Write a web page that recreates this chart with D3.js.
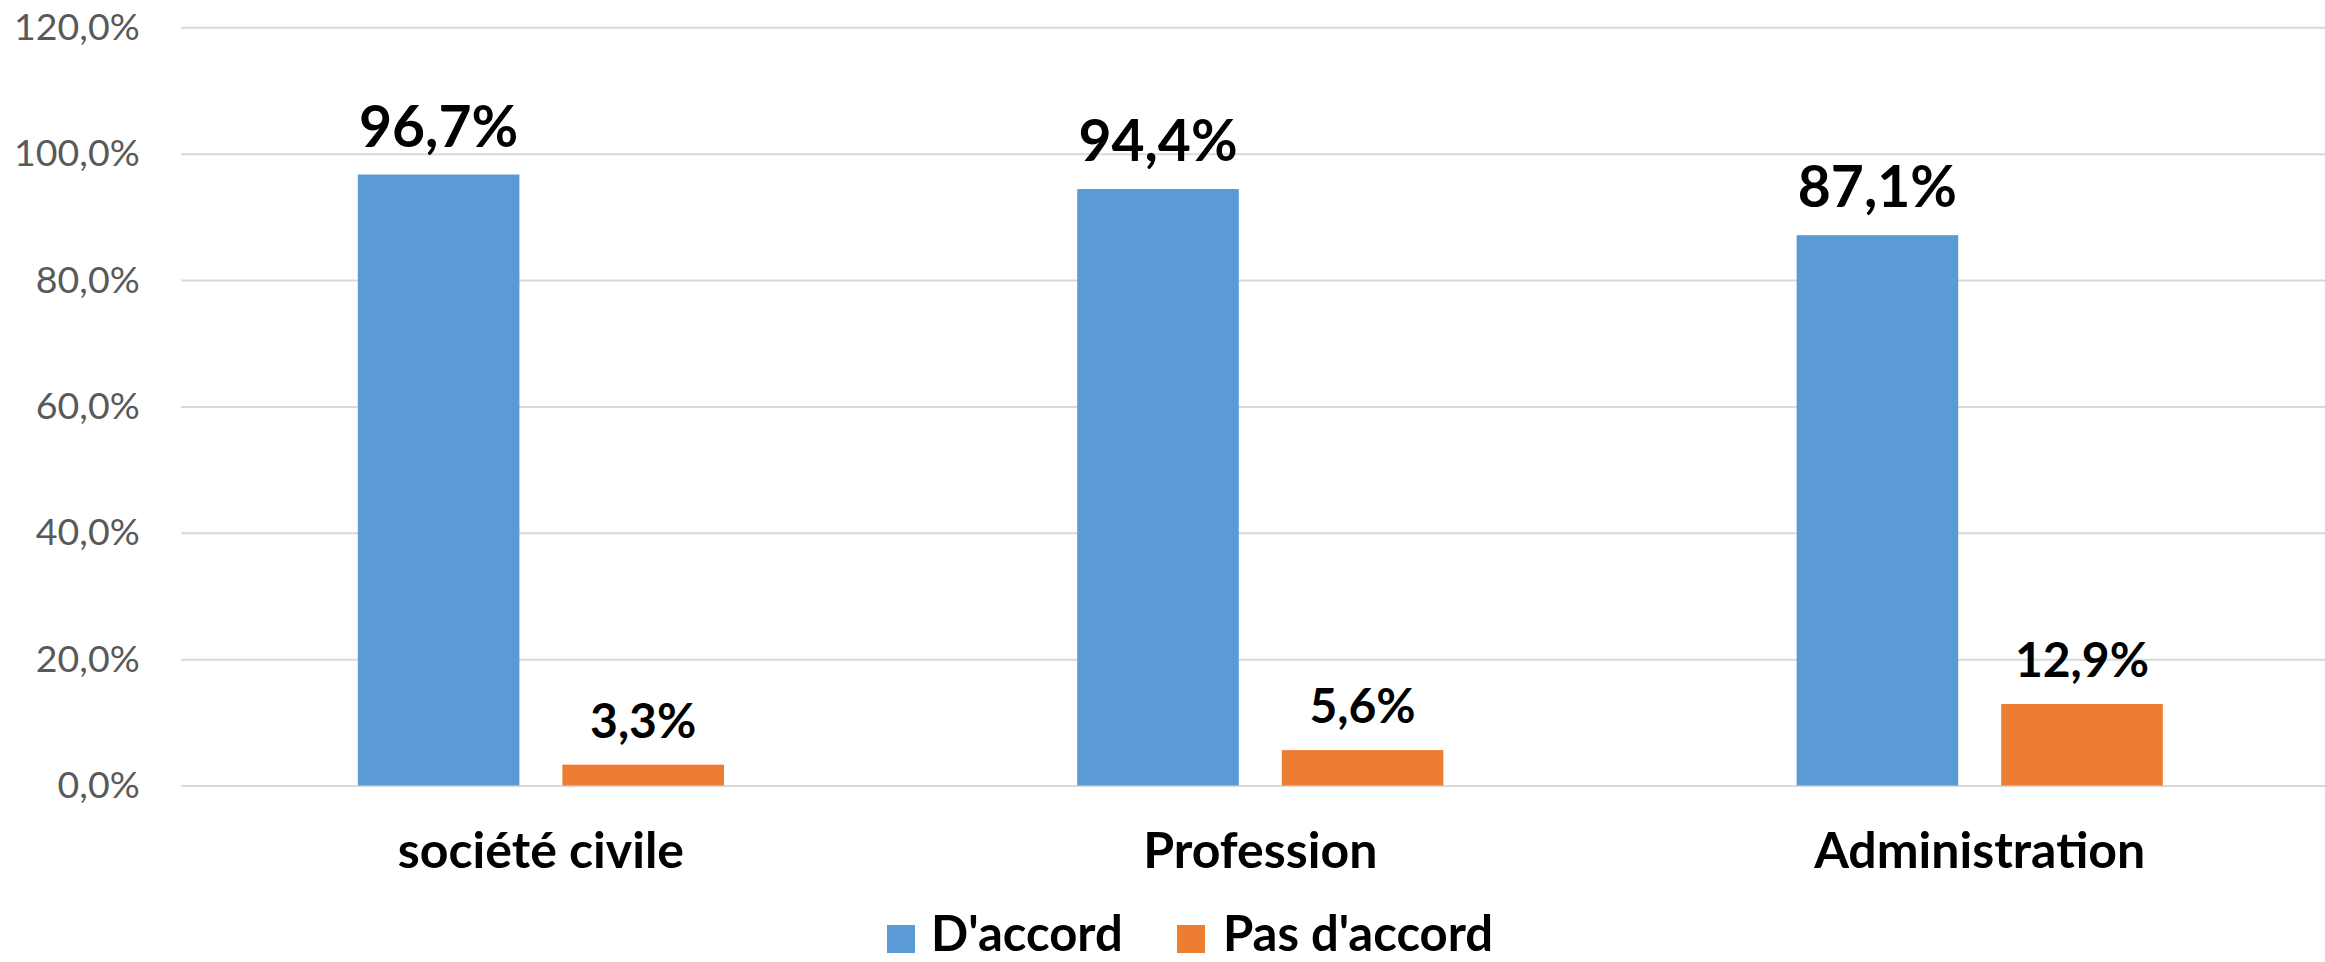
<!DOCTYPE html>
<html>
<head>
<meta charset="utf-8">
<script src="https://cdn.jsdelivr.net/npm/d3@7"></script>
<style>
  html, body { margin: 0; padding: 0; background: #ffffff; }
  svg { display: block; }
  text { font-family: Lato, "Open Sans", sans-serif; }
</style>
</head>
<body>
<svg id="chart" width="2325" height="962"></svg>
<script>
// ---- Data ----
const categories = ["société civile", "Profession", "Administration"];
const seriesNames = ["D'accord", "Pas d'accord"];
const daccord = [96.7, 94.4, 87.1];
const pasDaccord = [3.3, 5.6, 12.9];
const yTicks = [0, 20, 40, 60, 80, 100, 120];
const seriesColors = ["#5B9BD5", "#ED7D31"];

const seriesValues = [daccord, pasDaccord];
const rows = categories.map((c, i) => ({
  category: c,
  values: seriesNames.map((s, j) => ({ series: s, idx: j, value: seriesValues[j][i] }))
}));

const fr = d3.formatLocale({ decimal: ",", thousands: "\u00a0", grouping: [3], currency: ["", " €"] });
const fmt = fr.format(".1f");
const pct = v => fmt(v) + "%";

const W = 2325, H = 962;
const svg = d3.select("#chart");

const plotLeft = 181.2, plotRight = 2339.4, gridRight = 2325;
const y = d3.scaleLinear().domain([0, 120]).range([785.5, 27.3]);

const x0 = d3.scaleBand().domain(categories).range([plotLeft, plotRight])
  .paddingInner(0.491).paddingOuter(0.2455);
const x1 = d3.scaleBand().domain(seriesNames).range([0, x0.bandwidth()])
  .paddingInner(0.21).paddingOuter(0);

// ---- Gridlines + Y axis ----
const yAxis = d3.axisLeft(y).tickValues(yTicks)
  .tickSize(-(gridRight - plotLeft)).tickPadding(41.5)
  .tickFormat(pct);
const gy = svg.append("g").attr("transform", `translate(${plotLeft},0)`).call(yAxis);
gy.select(".domain").remove();
gy.selectAll(".tick line").attr("stroke", "#d9d9d9").attr("stroke-width", 2);
gy.selectAll(".tick text")
  .attr("fill", "#595959")
  .style("font-family", "Lato, sans-serif")
  .style("font-size", "37.5px");

// ---- Bars ----
const groups = svg.append("g").selectAll("g").data(rows).join("g")
  .attr("transform", d => `translate(${x0(d.category)},0)`);

groups.selectAll("rect").data(d => d.values).join("rect")
  .attr("x", d => x1(d.series))
  .attr("width", x1.bandwidth())
  .attr("y", d => y(d.value))
  .attr("height", d => y(0) - y(d.value))
  .attr("fill", d => seriesColors[d.idx]);

// ---- Data labels ----
groups.selectAll("text.lbl").data(d => d.values).join("text")
  .attr("class", "lbl")
  .attr("x", d => x1(d.series) + x1.bandwidth() / 2)
  .attr("y", d => y(d.value) - (d.idx === 0 ? 28 : 27))
  .attr("text-anchor", "middle")
  .attr("fill", "#000")
  .style("font-weight", "bold")
  .style("font-size", d => d.idx === 0 ? "57px" : "48px")
  .text(d => pct(d.value));

// ---- X axis labels ----
const xAxis = d3.axisBottom(x0).tickSize(0).tickPadding(0);
const gx = svg.append("g").attr("transform", `translate(0,${y(0)})`).call(xAxis);
gx.select(".domain").remove();
gx.selectAll(".tick text")
  .attr("y", 868 - y(0))
  .attr("dy", 0)
  .attr("fill", "#000")
  .style("font-family", "Lato, sans-serif")
  .style("font-weight", "bold")
  .style("font-size", "50px");

// ---- Legend ----
const legendItems = [
  { name: seriesNames[0], color: seriesColors[0], sx: 887, tx: 931 },
  { name: seriesNames[1], color: seriesColors[1], sx: 1177, tx: 1223 }
];
const lg = svg.append("g");
legendItems.forEach(it => {
  lg.append("rect").attr("x", it.sx).attr("y", 925).attr("width", 28).attr("height", 28).attr("fill", it.color);
  lg.append("text").attr("x", it.tx).attr("y", 951)
    .attr("fill", "#000").style("font-weight", "bold").style("font-size", "49px")
    .text(it.name);
});
</script>
</body>
</html>
